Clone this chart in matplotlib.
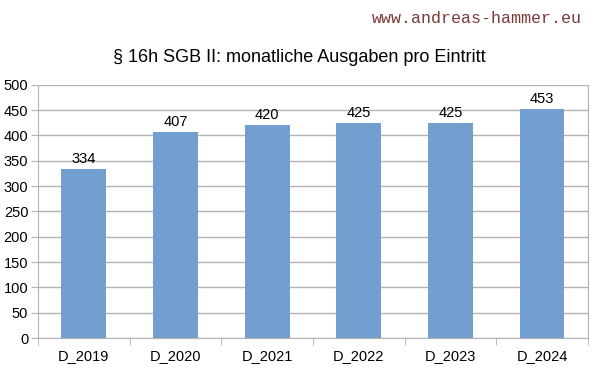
import matplotlib
matplotlib.use("Agg")
import matplotlib.pyplot as plt
import numpy as np

# data
categories = ["D_2019", "D_2020", "D_2021", "D_2022", "D_2023", "D_2024"]
values = [334, 407, 420, 425, 425, 453]

plt.rcParams['font.family'] = ['Liberation Sans', 'DejaVu Sans']

fig = plt.figure(figsize=(5.99, 3.68), dpi=100)
ax = fig.add_axes([0.0634, 0.0815, 0.918, 0.688])

x = np.arange(len(categories))
bars = ax.bar(x, values, width=0.49, color='#729fcf', zorder=3)
for xi, v in zip(x, values):
    ax.text(xi, v + 6, str(v), ha='center', va='bottom', fontsize=10.5, color='black')

ax.set_xlim(-0.5, len(categories) - 0.5)
ax.set_ylim(0, 500)
ax.set_yticks(np.arange(0, 501, 50))
ax.set_xticks(x)
ax.set_xticklabels(categories, fontsize=10.5)
ax.tick_params(axis='y', labelsize=10.5, length=5, color='#b3b3b3', pad=2)
ax.tick_params(axis='x', length=0, pad=8)
# minor ticks at category boundaries
ax.set_xticks(np.arange(-0.5, len(categories), 1), minor=True)
ax.tick_params(axis='x', which='minor', length=5, color='#b3b3b3')

ax.grid(axis='y', color='#b3b3b3', linewidth=1, zorder=0)
for side in ['top']:
    ax.spines[side].set_visible(False)
for side in ['left', 'right', 'bottom']:
    ax.spines[side].set_color('#b3b3b3')

fig.text(0.5, 0.845, "§ 16h SGB II: monatliche Ausgaben pro Eintritt",
         ha='center', va='center', fontsize=13)
fig.text(0.972, 0.95, "www.andreas-hammer.eu", ha='right', va='center',
         fontsize=12, color='#7a3a3a',
         family=['Liberation Mono', 'DejaVu Sans Mono'])

fig.savefig("out.png", dpi=100)
